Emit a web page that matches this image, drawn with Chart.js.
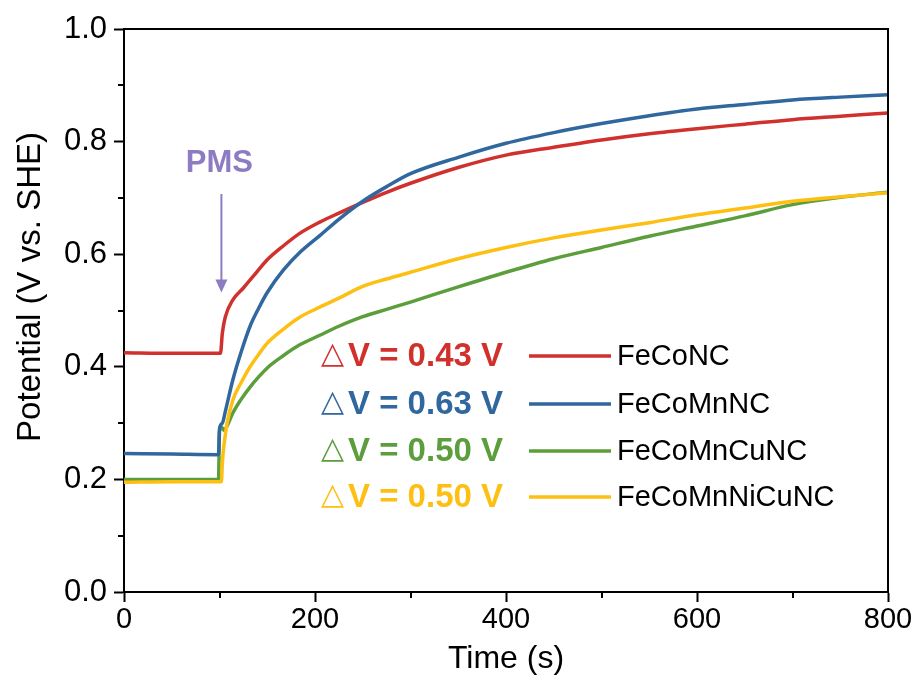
<!DOCTYPE html>
<html>
<head>
<meta charset="utf-8">
<script src="https://cdn.jsdelivr.net/npm/chart.js@4.4.1/dist/chart.umd.min.js"></script>
<style>
  html, body { margin: 0; padding: 0; background: #fff; }
  #wrap { width: 921px; height: 684px; position: relative; }
</style>
</head>
<body>
<div id="wrap"><canvas id="c"></canvas></div>
<script>
// ---- Data ----
const seriesNames = ['FeCoNC', 'FeCoMnNC', 'FeCoMnCuNC', 'FeCoMnNiCuNC'];
const deltaLabels = ['V = 0.43 V', 'V = 0.63 V', 'V = 0.50 V', 'V = 0.50 V'];

const timeFeCoNC = [0, 50, 101, 103, 106, 114, 125, 135, 150, 167, 184, 205, 225, 250, 275, 300, 350, 400, 450, 500, 550, 600, 650, 700, 750, 800];
const potFeCoNC  = [0.425, 0.424, 0.424, 0.46, 0.488, 0.519, 0.540, 0.560, 0.590, 0.615, 0.637, 0.657, 0.673, 0.692, 0.710, 0.726, 0.754, 0.776, 0.790, 0.803, 0.814, 0.823, 0.831, 0.839, 0.845, 0.851];

const timeFeCoMnNC = [0, 50, 99, 100, 103, 106, 114, 123, 132, 141, 150, 167, 184, 205, 225, 250, 275, 300, 350, 400, 450, 500, 550, 600, 650, 700, 750, 800];
const potFeCoMnNC  = [0.246, 0.245, 0.244, 0.290, 0.300, 0.320, 0.377, 0.428, 0.472, 0.504, 0.532, 0.572, 0.603, 0.633, 0.662, 0.694, 0.720, 0.743, 0.772, 0.797, 0.816, 0.832, 0.846, 0.858, 0.866, 0.874, 0.879, 0.883];

const timeFeCoMnCuNC = [0, 50, 99, 100, 102, 105, 108, 114, 123, 132, 141, 150, 167, 184, 205, 225, 250, 275, 300, 350, 400, 450, 500, 550, 600, 650, 700, 750, 800];
const potFeCoMnCuNC  = [0.200, 0.200, 0.200, 0.285, 0.293, 0.287, 0.295, 0.318, 0.343, 0.364, 0.382, 0.398, 0.420, 0.439, 0.456, 0.472, 0.489, 0.502, 0.515, 0.542, 0.568, 0.592, 0.612, 0.632, 0.650, 0.668, 0.688, 0.701, 0.710];

const timeFeCoMnNiCuNC = [0, 50, 102, 103, 105, 108, 114, 123, 132, 141, 150, 167, 184, 205, 225, 250, 275, 300, 350, 400, 450, 500, 550, 600, 650, 700, 750, 800];
const potFeCoMnNiCuNC  = [0.195, 0.196, 0.196, 0.230, 0.265, 0.300, 0.341, 0.373, 0.400, 0.422, 0.442, 0.467, 0.488, 0.506, 0.522, 0.543, 0.556, 0.568, 0.592, 0.612, 0.629, 0.643, 0.656, 0.670, 0.682, 0.694, 0.702, 0.709];

const xMajorTicks = [0, 200, 400, 600, 800];
const xMinorTicks = [100, 300, 500, 700];
const yMajorTicks = [0.0, 0.2, 0.4, 0.6, 0.8, 1.0];
const yMinorTicks = [0.1, 0.3, 0.5, 0.7, 0.9];

const xTitle = 'Time (s)';
const yTitle = 'Potential (V vs. SHE)';
const annotationText = 'PMS';

// ---- Styles ----
const colors = ['#d0312d', '#30679e', '#5b9e3b', '#fdbf12'];
const purple = '#8e7cc3';
const FONT = '"Liberation Sans", Arial, Helvetica, sans-serif';

const pairs = (t, v) => t.map((x, i) => ({ x: x, y: v[i] }));
const allTimes = [timeFeCoNC, timeFeCoMnNC, timeFeCoMnCuNC, timeFeCoMnNiCuNC];
const allPots = [potFeCoNC, potFeCoMnNC, potFeCoMnCuNC, potFeCoMnNiCuNC];
const drawOrder = [3, 1, 2, 0];

const datasets = seriesNames.map((name, i) => ({
  label: name,
  data: pairs(allTimes[i], allPots[i]),
  borderColor: colors[i],
  backgroundColor: colors[i],
  borderWidth: 3.5,
  pointRadius: 0,
  cubicInterpolationMode: 'monotone',
  fill: false,
  order: drawOrder[i]
}));

const extras = {
  id: 'extras',
  afterDraw(chart) {
    const { ctx, chartArea, scales } = chart;
    const { left, right, top, bottom } = chartArea;
    const xs = scales.x, ys = scales.y;
    ctx.save();
    ctx.strokeStyle = '#000';
    ctx.lineWidth = 2;
    ctx.lineCap = 'butt';
    // minor ticks
    xMinorTicks.forEach(t => {
      const px = Math.round(xs.getPixelForValue(t));
      ctx.beginPath(); ctx.moveTo(px, bottom); ctx.lineTo(px, bottom + 6); ctx.stroke();
    });
    yMinorTicks.forEach(v => {
      const py = Math.round(ys.getPixelForValue(v));
      ctx.beginPath(); ctx.moveTo(left - 6, py); ctx.lineTo(left, py); ctx.stroke();
    });
    // top and right frame
    ctx.beginPath();
    ctx.moveTo(left - 1, top); ctx.lineTo(right, top); ctx.lineTo(right, bottom);
    ctx.stroke();

    // y axis title
    ctx.save();
    ctx.translate(31, 287);
    ctx.rotate(-Math.PI / 2);
    ctx.fillStyle = '#000';
    ctx.font = '33px ' + FONT;
    ctx.textAlign = 'center';
    ctx.textBaseline = 'middle';
    ctx.fillText(yTitle, 0, 0);
    ctx.restore();

    // x axis title
    ctx.fillStyle = '#000';
    ctx.font = '32px ' + FONT;
    ctx.textAlign = 'center';
    ctx.textBaseline = 'middle';
    ctx.fillText(xTitle, (left + right) / 2, 659);

    // PMS annotation
    const ax = xs.getPixelForValue(102);
    ctx.fillStyle = purple;
    ctx.font = 'bold 31px ' + FONT;
    ctx.textAlign = 'center';
    ctx.textBaseline = 'middle';
    ctx.fillText(annotationText, ax - 2, ys.getPixelForValue(0.762));
    const y0 = ys.getPixelForValue(0.707), y1 = ys.getPixelForValue(0.532);
    ctx.strokeStyle = purple;
    ctx.lineWidth = 2;
    ctx.beginPath(); ctx.moveTo(ax, y0); ctx.lineTo(ax, y1 - 10); ctx.stroke();
    ctx.beginPath();
    ctx.moveTo(ax - 6, y1 - 13); ctx.lineTo(ax + 6, y1 - 13); ctx.lineTo(ax, y1); ctx.closePath();
    ctx.fill();

    // Custom legend
    const rowY = [356, 404, 451, 497];
    const triX = left + 197;
    seriesNames.forEach((name, i) => {
      const y = rowY[i];
      ctx.textAlign = 'left';
      ctx.textBaseline = 'middle';
      ctx.fillStyle = colors[i];
      ctx.font = '30px "DejaVu Sans", sans-serif';
      ctx.fillText('\u25B3', triX, y - 1);
      ctx.font = 'bold 33px ' + FONT;
      ctx.fillText(deltaLabels[i], triX + 27, y + 1);
      ctx.strokeStyle = colors[i];
      ctx.lineWidth = 3.5;
      ctx.beginPath(); ctx.moveTo(left + 405, y); ctx.lineTo(left + 487, y); ctx.stroke();
      ctx.fillStyle = '#000';
      ctx.font = '29px ' + FONT;
      ctx.fillText(name, left + 493, y + 1);
    });
    ctx.restore();
  }
};

new Chart(document.getElementById('c'), {
  type: 'line',
  data: { datasets },
  plugins: [extras],
  options: {
    responsive: true,
    maintainAspectRatio: false,
    animation: false,
    layout: { padding: { top: 29, right: 33, left: 0, bottom: 0 } },
    plugins: { legend: { display: false }, tooltip: { enabled: false } },
    scales: {
      x: {
        type: 'linear',
        min: 0, max: 800,
        afterFit(s) { s.height = 92; },
        afterBuildTicks(s) { s.ticks = xMajorTicks.map(v => ({ value: v })); },
        ticks: { color: '#000', font: { family: FONT, size: 29 }, padding: 1, maxRotation: 0 },
        grid: { display: true, drawOnChartArea: false, drawTicks: true, tickLength: 10, tickWidth: 2, tickColor: '#000' },
        border: { display: true, color: '#000', width: 2 },
        title: { display: false }
      },
      y: {
        type: 'linear',
        min: 0, max: 1,
        afterFit(s) { s.width = 124; },
        afterBuildTicks(s) { s.ticks = yMajorTicks.map(v => ({ value: v })); },
        ticks: { color: '#000', font: { family: FONT, size: 31 }, padding: 7, callback: v => Number(v).toFixed(1) },
        grid: { display: true, drawOnChartArea: false, drawTicks: true, tickLength: 10, tickWidth: 2, tickColor: '#000' },
        border: { display: true, color: '#000', width: 2 },
        title: { display: false }
      }
    }
  }
});
</script>
</body>
</html>
